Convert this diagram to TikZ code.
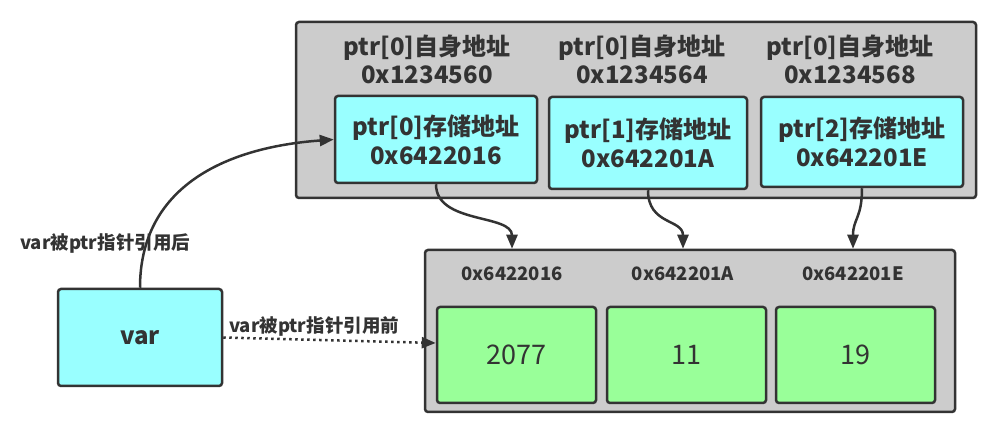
\documentclass[tikz,border=0pt]{standalone}
\usepackage{fontspec}
\setmainfont{Noto Sans CJK SC}
\usetikzlibrary{arrows.meta}
\definecolor{ink}{HTML}{333333}
\definecolor{grayfill}{HTML}{CCCCCC}
\definecolor{cyanfill}{HTML}{99FFFF}
\definecolor{greenfill}{HTML}{99FF99}
\tikzset{
  box/.style={draw=ink, line width=2.5pt, rounded corners=3pt, inner sep=0pt},
  graybox/.style={box, fill=grayfill},
  cyanbox/.style={box, fill=cyanfill, text=ink, align=center, font=\bfseries\fontsize{24}{29}\selectfont},
  greenbox/.style={box, fill=greenfill, text=ink, font=\fontsize{27}{30}\selectfont, minimum width=159pt, minimum height=96pt},
  toplbl/.style={text=ink, align=center, font=\bfseries\fontsize{24}{28}\selectfont, inner sep=0pt},
  addrlbl/.style={text=ink, font=\bfseries\fontsize{18.5}{20}\selectfont, inner sep=0pt},
  edgelbl/.style={text=ink, font=\bfseries\fontsize{18.5}{20}\selectfont, inner sep=0pt},
  arr/.style={draw=ink, line width=2.5pt, -{Triangle[length=14pt,width=11pt]}},
}
\begin{document}
\begin{tikzpicture}[x=1pt,y=-1pt]
\useasboundingbox (0,0) rectangle (997,430);
% top container
\node[graybox, minimum width=680pt, minimum height=176pt] (top) at (636,110) {};
\node[toplbl] (a1) at (427,59) {ptr[0]自身地址\\0x1234560};
\node[toplbl] (a2) at (642,59) {ptr[0]自身地址\\0x1234564};
\node[toplbl] (a3) at (850,59) {ptr[0]自身地址\\0x1234568};
\node[cyanbox, minimum width=202pt, minimum height=87pt] (c1) at (436,139.5) {ptr[0]存储地址\\0x6422016};
\node[cyanbox, minimum width=198pt, minimum height=92pt] (c2) at (648,143) {ptr[1]存储地址\\0x642201A};
\node[cyanbox, minimum width=202pt, minimum height=90pt] (c3) at (862,142) {ptr[2]存储地址\\0x642201E};
% bottom container
\node[graybox, minimum width=530pt, minimum height=162pt] (bot) at (690,331) {};
\node[addrlbl] (b1) at (512,274) {0x6422016};
\node[addrlbl] (b2) at (683,274) {0x642201A};
\node[addrlbl] (b3) at (853,274) {0x642201E};
\node[greenbox] (g1) at (516.5,355) {2077};
\node[greenbox] (g2) at (686.5,355) {11};
\node[greenbox] (g3) at (855.5,355) {19};
% var
\node[box, fill=cyanfill, text=ink, font=\bfseries\fontsize{24}{28}\selectfont, minimum width=164pt, minimum height=97pt] (var) at (140,337.5) {var};
% connectors top -> bottom
\coordinate (e1) at (b1 |- bot.north);
\coordinate (e2) at (b2 |- bot.north);
\coordinate (e3) at (b3 |- bot.north);
\draw[arr] (c1.south) .. controls +(0,40) and +(0,-35) .. (e1);
\draw[arr] (c2.south) .. controls +(0,35) and +(0,-30) .. (e2);
\draw[arr] (c3.south) .. controls +(0,30) and +(0,-30) .. (e3);
% var connectors
\draw[arr] (var.north) .. controls +(0,-100) and +(-110,8) .. (c1.west);
\coordinate (gin) at ([yshift=12pt]g1.west);
\draw[arr, dash pattern=on 2.5pt off 3.5pt] (var.east) -- (gin);
\node[edgelbl] (l1) at (105,243) {var被ptr指针引用后};
\node[edgelbl] (l2) at (314,326) {var被ptr指针引用前};
\end{tikzpicture}
\end{document}
